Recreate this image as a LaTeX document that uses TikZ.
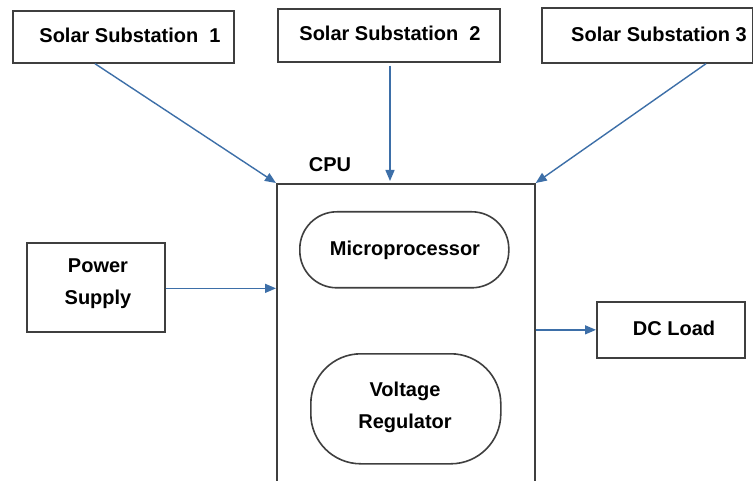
\documentclass[tikz,border=0pt]{standalone}
\usepackage{fontspec}
\setmainfont{Liberation Sans}
\usetikzlibrary{arrows.meta,calc}
\definecolor{arrowblue}{HTML}{3D6FA8}
\definecolor{boxgray}{HTML}{3F3F3F}
\begin{document}
\begin{tikzpicture}[x=1pt,y=-1pt,
  txt/.style={font=\fontsize{20}{32}\selectfont\bfseries, text=black, align=center, inner sep=0pt},
  blk/.style={draw=boxgray, line width=1.7pt, fill=white, anchor=north west, inner sep=0pt, txt},
  conn/.style={draw=arrowblue, line width=1.4pt, -{Triangle[length=11pt,width=9pt]}}
]
\clip (0,0) rectangle (753,481);
\fill[white] (0,0) rectangle (753,481);
% top boxes
\node[blk, minimum width=221, minimum height=52] (ss1) at (12,10) {};
\node[txt] (ss1t) at (130,35) {Solar Substation\ \ 1};
\node[blk, minimum width=222, minimum height=53] (ss2) at (277,8) {};
\node[txt] (ss2t) at (390,33) {Solar Substation\ \ 2};
\node[blk, minimum width=211, minimum height=55] (ss3) at (541,7) {};
\node[txt] (ss3t) at (659,34) {Solar Substation 3};
% CPU
\node[blk, minimum width=258, minimum height=320] (cpu) at (276,183) {};
\node[txt] (cpul) at (330,165) {CPU};
\node[draw=boxgray, line width=1.6pt, rounded corners=37pt, minimum width=209, minimum height=76, inner sep=0pt, anchor=north west, txt] (mp) at (299,211) {};
\node[txt] (mpt) at (405,250) {Microprocessor};
\node[draw=boxgray, line width=1.6pt, rounded corners=50pt, minimum width=190, minimum height=110, inner sep=0pt, anchor=north west, txt] (vr) at (310,353) {};
\node[txt] (vrt) at (405,407) {Voltage\\Regulator};
% side boxes
\node[blk, minimum width=138, minimum height=89] (ps) at (26,242) {};
\node[txt] (pst) at (98,284) {Power\\Supply};
\node[blk, minimum width=148, minimum height=56] (dc) at (596,301) {};
\node[txt] (dct) at (674,328) {DC Load};
% connectors
\draw[conn] ($(ss1.south west)+(83,0)$) -- (cpu.north west);
\draw[conn] ($(ss2.south west)+(113,3)$) -- ($(cpu.north west)+(114,-2)$);
\draw[conn] ($(ss3.south west)+(165,0)$) -- (cpu.north east);
\draw[conn] ($(ps.east)+(0,1)$) -- ($(ps.east -| cpu.west)+(0,1)$);
\draw[conn] (cpu.east |- dc.west) -- (dc.west);
\end{tikzpicture}
\end{document}
